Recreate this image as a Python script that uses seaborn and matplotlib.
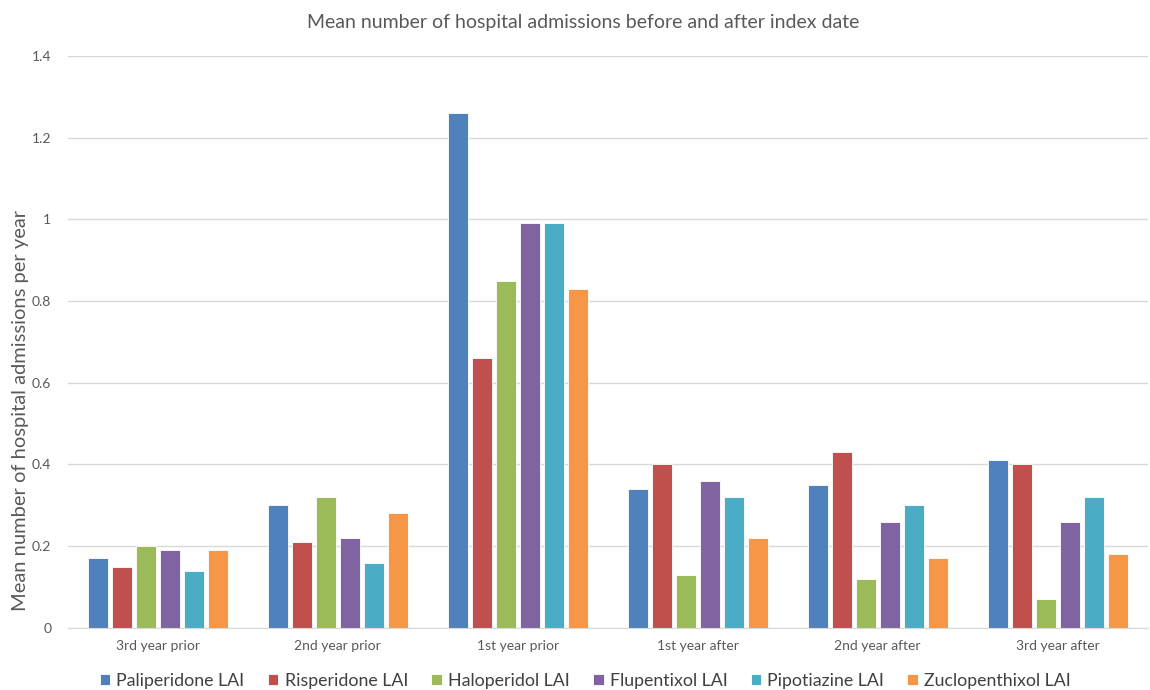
import pandas as pd
import matplotlib
matplotlib.use('Agg')
from matplotlib import pyplot as plt
from matplotlib.ticker import FuncFormatter
import seaborn as sns

# chart values
periods = ['3rd year prior', '2nd year prior', '1st year prior',
           '1st year after', '2nd year after', '3rd year after']
drugs = ['Paliperidone LAI', 'Risperidone LAI', 'Haloperidol LAI',
         'Flupentixol LAI', 'Pipotiazine LAI', 'Zuclopenthixol LAI']
paliperidone = [0.17, 0.30, 1.26, 0.34, 0.35, 0.41]
risperidone = [0.15, 0.21, 0.66, 0.40, 0.43, 0.40]
haloperidol = [0.20, 0.32, 0.85, 0.13, 0.12, 0.07]
flupentixol = [0.19, 0.22, 0.99, 0.36, 0.26, 0.26]
pipotiazine = [0.14, 0.16, 0.99, 0.32, 0.30, 0.32]
zuclopenthixol = [0.19, 0.28, 0.83, 0.22, 0.17, 0.18]

PALETTE = ['#4F81BD', '#C0504D', '#9BBB59', '#8064A2', '#4BACC6', '#F79646']

series = [paliperidone, risperidone, haloperidol, flupentixol, pipotiazine, zuclopenthixol]
rows = []
for drug, vals in zip(drugs, series):
    for p, v in zip(periods, vals):
        rows.append({'Period': p, 'Drug': drug, 'Admissions': v})
df = pd.DataFrame(rows)

sns.set_style('white')
plt.rcParams['font.family'] = ['Lato', 'DejaVu Sans']

fig = plt.figure(figsize=(11.5, 6.9), dpi=100)
ax = fig.add_axes([0.059, 0.09, 0.939, 0.829])

sns.barplot(data=df, x='Period', y='Admissions', hue='Drug', order=periods,
            hue_order=drugs, palette=PALETTE, saturation=1, width=0.8, gap=0.17,
            edgecolor='white', linewidth=0.6, ax=ax, legend=True)

ax.set_ylim(0, 1.4)
ax.set_yticks([0, 0.2, 0.4, 0.6, 0.8, 1.0, 1.2, 1.4])
ax.yaxis.set_major_formatter(FuncFormatter(lambda v, pos: f'{v:g}'))
ax.grid(axis='y', color='#D9D9D9', linewidth=1)
ax.set_axisbelow(True)
for s in ['top', 'right', 'left']:
    ax.spines[s].set_visible(False)
ax.spines['bottom'].set_color('#D9D9D9')
ax.tick_params(axis='both', length=0, labelsize=10, labelcolor='#595959')
ax.tick_params(axis='x', pad=9)
ax.tick_params(axis='y', pad=12)
ax.set_xlabel('')
ax.set_ylabel('Mean number of hospital admissions per year', fontsize=14.5, color='#595959')
ax.yaxis.set_label_coords(-0.036, 0.38)

fig.suptitle('Mean number of hospital admissions before and after index date',
             fontsize=14, color='#595959', x=0.507, y=0.98)

handles, labels = ax.get_legend_handles_labels()
ax.get_legend().remove()
fig.legend(handles, labels, loc='center', bbox_to_anchor=(0.509, 0.013), ncol=6,
           frameon=False, fontsize=12.8, handlelength=0.6, handleheight=0.6,
           handletextpad=0.35, columnspacing=1.3, labelcolor='#404040')

fig.savefig('out.png', dpi=100)
